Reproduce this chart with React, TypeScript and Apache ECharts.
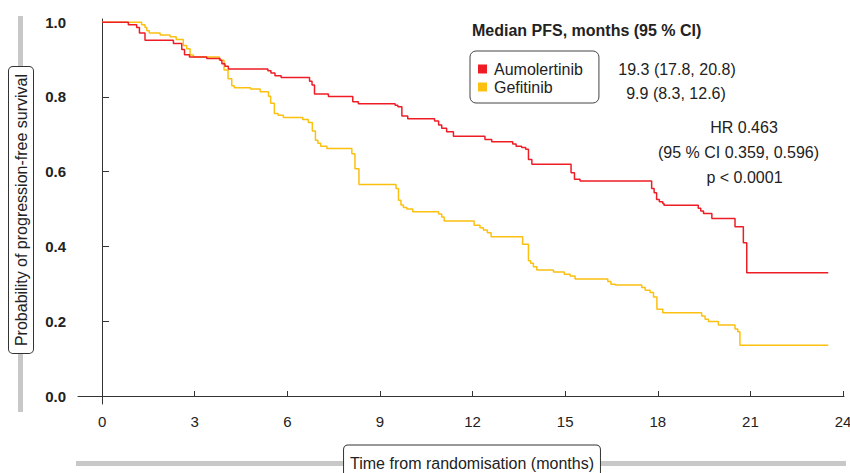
import React, { useEffect, useRef } from 'react';
import * as echarts from 'echarts';

const FONT = '"Liberation Sans", Arial, Helvetica, sans-serif';

const xTicks = [0, 3, 6, 9, 12, 15, 18, 21, 24];
const yTicks = [0, 0.2, 0.4, 0.6, 0.8, 1.0];

const seriesNames = ['Aumolertinib', 'Gefitinib'];
const seriesColors = ['#ee1c24', '#fcc010'];

const aumolertinibTimes = [0, 0.85, 1.12, 1.21, 1.39, 2.31, 2.58, 2.67, 2.83, 3.39, 3.82, 3.88, 3.98, 4.09, 5.37, 5.47, 5.6, 5.8, 6.72, 6.8, 6.88, 7.33, 8.12, 8.3, 9.49, 9.58, 9.71, 9.9, 10.77, 10.9, 11.0, 11.16, 11.38, 12.4, 12.62, 13.3, 13.41, 13.59, 13.72, 13.81, 13.92, 15.19, 15.3, 15.48, 17.8, 17.88, 17.96, 18.05, 18.16, 18.2, 19.31, 19.39, 19.48, 19.75, 20.5, 20.77, 20.88, 23.52];
const aumolertinibSurv = [1.0, 0.993, 0.986, 0.971, 0.952, 0.943, 0.927, 0.913, 0.907, 0.903, 0.898, 0.889, 0.882, 0.875, 0.870, 0.864, 0.857, 0.852, 0.842, 0.832, 0.808, 0.801, 0.787, 0.782, 0.778, 0.774, 0.749, 0.742, 0.736, 0.725, 0.716, 0.707, 0.695, 0.686, 0.680, 0.674, 0.668, 0.665, 0.660, 0.633, 0.620, 0.597, 0.580, 0.575, 0.555, 0.544, 0.526, 0.520, 0.515, 0.510, 0.502, 0.495, 0.488, 0.475, 0.453, 0.410, 0.330, 0.330];

const gefitinibTimes = [0, 1.28, 1.39, 1.45, 1.53, 1.88, 2.2, 2.4, 2.63, 2.74, 2.85, 2.96, 3.8, 3.95, 4.08, 4.2, 4.28, 4.81, 5.12, 5.39, 5.46, 5.58, 5.7, 5.87, 6.5, 6.68, 6.81, 6.91, 6.99, 7.08, 7.28, 8.09, 8.19, 8.32, 9.52, 9.6, 9.68, 9.76, 9.87, 10.06, 10.9, 11.0, 11.08, 12.05, 12.24, 12.35, 12.48, 12.6, 13.62, 13.81, 13.88, 13.97, 14.08, 14.62, 14.97, 15.16, 15.32, 16.38, 16.48, 16.62, 17.48, 17.59, 17.75, 17.86, 17.97, 18.16, 19.42, 19.53, 19.64, 19.96, 20.5, 20.59, 20.66, 23.52];
const gefitinibSurv = [1.0, 0.993, 0.986, 0.977, 0.971, 0.966, 0.961, 0.954, 0.938, 0.929, 0.912, 0.907, 0.898, 0.872, 0.849, 0.830, 0.825, 0.821, 0.814, 0.802, 0.783, 0.756, 0.751, 0.745, 0.740, 0.732, 0.709, 0.684, 0.676, 0.668, 0.662, 0.648, 0.608, 0.566, 0.555, 0.524, 0.511, 0.504, 0.500, 0.493, 0.487, 0.479, 0.468, 0.457, 0.450, 0.444, 0.437, 0.426, 0.406, 0.362, 0.355, 0.346, 0.337, 0.332, 0.326, 0.321, 0.313, 0.306, 0.299, 0.297, 0.290, 0.283, 0.277, 0.265, 0.232, 0.223, 0.214, 0.205, 0.199, 0.190, 0.179, 0.172, 0.136, 0.136];

const medianTitle = 'Median PFS, months (95 % CI)';
const medianTexts = ['19.3 (17.8, 20.8)', '9.9 (8.3, 12.6)'];
const hrTexts = ['HR 0.463', '(95 % CI 0.359, 0.596)', 'p < 0.0001'];
const xAxisTitle = 'Time from randomisation (months)';
const yAxisTitle = 'Probability of progression-free survival';

const zip = (t: number[], s: number[]) => t.map((v, i) => [v, s[i]]);

export default function App() {
  const ref = useRef<HTMLDivElement>(null);
  useEffect(() => {
    const chart = echarts.init(ref.current!, null, { renderer: 'svg' });
    const option: any = {
      animation: false,
      backgroundColor: '#ffffff',
      textStyle: { fontFamily: FONT },
      grid: { left: 78, right: 6, top: 19, bottom: 69, containLabel: false, outerBoundsMode: 'none' },
      xAxis: {
        type: 'value',
        min: -0.78,
        max: 24.03,
        axisLine: { show: true, lineStyle: { color: '#333', width: 1 } },
        axisTick: { show: true, inside: true, length: 5, customValues: xTicks, lineStyle: { color: '#333' } },
        axisLabel: { customValues: xTicks, fontSize: 15, color: '#222', margin: 10, fontFamily: FONT },
        splitLine: { show: false },
      },
      yAxis: {
        type: 'value',
        min: -0.0214,
        max: 1.0086,
        axisLine: { show: true, lineStyle: { color: '#333', width: 1 } },
        axisTick: { show: true, inside: true, length: 7, customValues: yTicks, lineStyle: { color: '#333' } },
        axisLabel: {
          customValues: yTicks,
          fontSize: 15,
          fontWeight: 'bold',
          color: '#222',
          margin: 12,
          fontFamily: FONT,
          formatter: (v: number) => v.toFixed(1),
        },
        splitLine: { show: false },
      },
      legend: {
        data: seriesNames,
        orient: 'vertical',
        left: 470,
        top: 51,
        icon: 'rect',
        itemWidth: 9,
        itemHeight: 9,
        itemGap: 2,
        padding: [10, 16, 8, 8],
        borderColor: '#444',
        borderWidth: 1,
        borderRadius: 6,
        backgroundColor: '#fff',
        textStyle: { fontSize: 16, color: '#222', fontFamily: FONT, padding: [0, 0, 0, 2] },
      },
      series: [
        {
          name: seriesNames[0],
          type: 'line',
          step: 'end',
          symbol: 'none',
          data: zip(aumolertinibTimes, aumolertinibSurv),
          lineStyle: { color: seriesColors[0], width: 1.5 },
          itemStyle: { color: seriesColors[0] },
          z: 3,
        },
        {
          name: seriesNames[1],
          type: 'line',
          step: 'end',
          symbol: 'none',
          data: zip(gefitinibTimes, gefitinibSurv),
          lineStyle: { color: seriesColors[1], width: 1.5 },
          itemStyle: { color: seriesColors[1] },
          z: 2,
        },
      ],
      graphic: [
        { type: 'rect', z: 0, shape: { x: 18, y: 16, width: 5, height: 396 }, style: { fill: '#c8c8c8' } },
        { type: 'rect', z: 0, shape: { x: 76, y: 461, width: 770, height: 5 }, style: { fill: '#c8c8c8' } },
        {
          type: 'text', z: 10, x: 21, y: 210, rotation: Math.PI / 2,
          style: {
            text: yAxisTitle, fontSize: 16, fill: '#222', fontFamily: FONT,
            align: 'center', verticalAlign: 'middle',
            backgroundColor: '#fff', borderColor: '#333', borderWidth: 1, borderRadius: 4, padding: [4, 7, 4, 7],
          },
        },
        {
          type: 'text', z: 10, x: 472, y: 463,
          style: {
            text: xAxisTitle, fontSize: 16, fill: '#222', fontFamily: FONT,
            align: 'center', verticalAlign: 'middle',
            backgroundColor: '#fff', borderColor: '#333', borderWidth: 1, borderRadius: 4, padding: [5, 6, 14, 6],
          },
        },
        {
          type: 'text', z: 10, x: 472, y: 30,
          style: { text: medianTitle, fontSize: 16, fontWeight: 'bold', fill: '#222', fontFamily: FONT, align: 'left', verticalAlign: 'middle' },
        },
        {
          type: 'text', z: 10, x: 677, y: 69,
          style: { text: medianTexts[0], fontSize: 16, fill: '#222', fontFamily: FONT, align: 'center', verticalAlign: 'middle' },
        },
        {
          type: 'text', z: 10, x: 676, y: 93,
          style: { text: medianTexts[1], fontSize: 16, fill: '#222', fontFamily: FONT, align: 'center', verticalAlign: 'middle' },
        },
        {
          type: 'text', z: 10, x: 744, y: 127,
          style: { text: hrTexts[0], fontSize: 16, fill: '#222', fontFamily: FONT, align: 'center', verticalAlign: 'middle' },
        },
        {
          type: 'text', z: 10, x: 738.5, y: 152,
          style: { text: hrTexts[1], fontSize: 16, fill: '#222', fontFamily: FONT, align: 'center', verticalAlign: 'middle' },
        },
        {
          type: 'text', z: 10, x: 744.5, y: 177,
          style: { text: hrTexts[2], fontSize: 16, fill: '#222', fontFamily: FONT, align: 'center', verticalAlign: 'middle' },
        },
      ],
    };
    chart.setOption(option);
    return () => chart.dispose();
  }, []);
  return <div ref={ref} style={{ position: 'absolute', left: 0, top: 0, width: 850, height: 473 }} />;
}
